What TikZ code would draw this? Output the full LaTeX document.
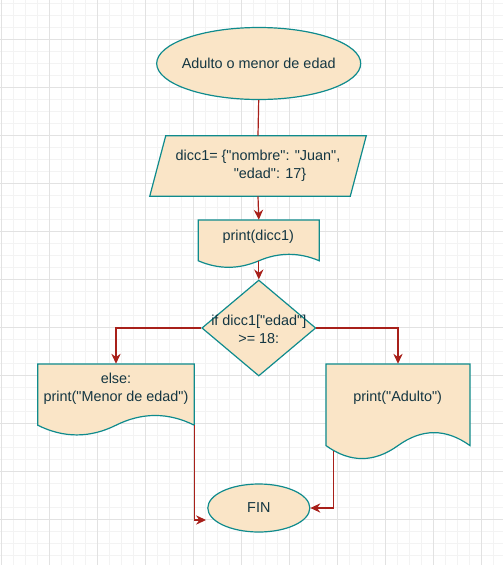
\documentclass[tikz,border=0pt]{standalone}
\usepackage{fontspec}
\newfontfamily\lsans{Liberation Sans}
\usetikzlibrary{shapes.geometric,arrows.meta,calc}
\definecolor{shfill}{HTML}{FAE5C7}
\definecolor{shline}{HTML}{0F8B8D}
\definecolor{txtcol}{HTML}{143642}
\definecolor{edgecol}{HTML}{A8201A}
\definecolor{gridminor}{HTML}{F3F3F3}
\definecolor{gridmajor}{HTML}{E2E2E2}
% #1 name, #2 x, #3 y, #4 w, #5 h  (px, y downwards)
\newcommand\docshape[5]{%
  \pgfmathsetmacro\dsb{#3+0.85*(#5)}%
  \pgfmathsetmacro\dsu{#3+0.67*(#5)}%
  \pgfmathsetmacro\dsl{#3+1.03*(#5)}%
  \draw[shp] (#2,#3) -- ({#2+#4},#3) -- ({#2+#4},\dsb)
    .. controls ({#2+5*#4/6},\dsu) and ({#2+4*#4/6},\dsu) .. ({#2+#4/2},\dsb)
    .. controls ({#2+2*#4/6},\dsl) and ({#2+#4/6},\dsl) .. (#2,\dsb) -- cycle;
  \node[inner sep=0, minimum width={0.75pt*#4}, minimum height={0.75pt*0.85*#5}] (#1) at ({#2+#4/2},{#3+0.425*#5}) {};
}
\begin{document}
\begin{tikzpicture}[x=0.75pt,y=-0.75pt,
  shp/.style={draw=shline, fill=shfill, line width=0.9pt},
  txt/.style={text=txtcol, font=\lsans\fontsize{10.8}{13.3}\selectfont, align=center, inner sep=0},
  conn/.style={draw=edgecol, line width=0.9pt},
  arr/.style={conn, -{Stealth[length=7.5pt,width=7pt,inset=2.5pt]}},
  gmin/.style={draw=gridminor, line width=0.75pt},
  gmaj/.style={draw=gridmajor, line width=0.75pt}]
\useasboundingbox (0,0) rectangle (503,565);
\fill[white] (0,0) rectangle (503,565);
% grid
\foreach \i in {0,...,41} \draw[gmin] ({1.3+12*\i},0) -- ({1.3+12*\i},565);
\foreach \j in {0,...,46} \draw[gmin] (0,{3.3+12*\j}) -- (503,{3.3+12*\j});
\foreach \i in {0,...,10} \draw[gmaj] ({1.3+48*\i},0) -- ({1.3+48*\i},565);
\foreach \j in {0,...,10} \draw[gmaj] (0,{39.3+48*\j}) -- (503,{39.3+48*\j});

% start
\node[shp, ellipse, minimum width=153pt, minimum height=54pt, inner sep=0] (start) at (258.7,63.5) {};
\node[txt] at (start) {Adulto o menor de edad};

% parallelogram
\node[inner sep=0, minimum width=150pt, minimum height=45pt] (para) at (258,166) {};
\draw[shp] ([xshift=6pt]para.north west) -- ([xshift=6pt]para.north east)
  -- ([xshift=-6pt]para.south east) -- ([xshift=-6pt]para.south west) -- cycle;
\node[txt] at (para) {dicc1= \{"nombre": "Juan",\\\hspace*{18pt}"edad": 17\}};

% print(dicc1)
\docshape{pr1}{198.3}{220}{121}{48}
\node[txt] at (258.3,236.7) {print(dicc1)};

% decision
\node[shp, diamond, minimum width=85.5pt, minimum height=72pt, inner sep=0] (dia) at (258.8,328) {};
\node[txt] at (258.8,329) {if dicc1["edad"]\\>= 18:};

% else box
\docshape{els}{37.7}{364}{156.6}{72}
\node[txt] at (116,389) {else:\\print("Menor de edad")};

% adulto box
\docshape{adu}{326}{364}{144}{96}
\node[txt] at (397.7,397.7) {print("Adulto")};

% end
\node[shp, ellipse, minimum width=76.5pt, minimum height=36pt, inner sep=0] (fin) at (258.8,508) {};
\node[txt] at (fin) {FIN};

% connectors
\coordinate (finin) at (206,520);
\draw[conn] (start.south) -- (para.north);
\draw[arr] (para.south) -- (pr1.north);
\draw[arr] (pr1.south) -- (dia.north);
\draw[arr] (dia.west) -| (els.north);
\draw[arr] (dia.east) -| (adu.north);
\draw[arr] (els.south east) |- (finin);
\draw[arr] ([shift={(8,5)}]adu.south west) |- (fin.east);
\end{tikzpicture}
\end{document}
